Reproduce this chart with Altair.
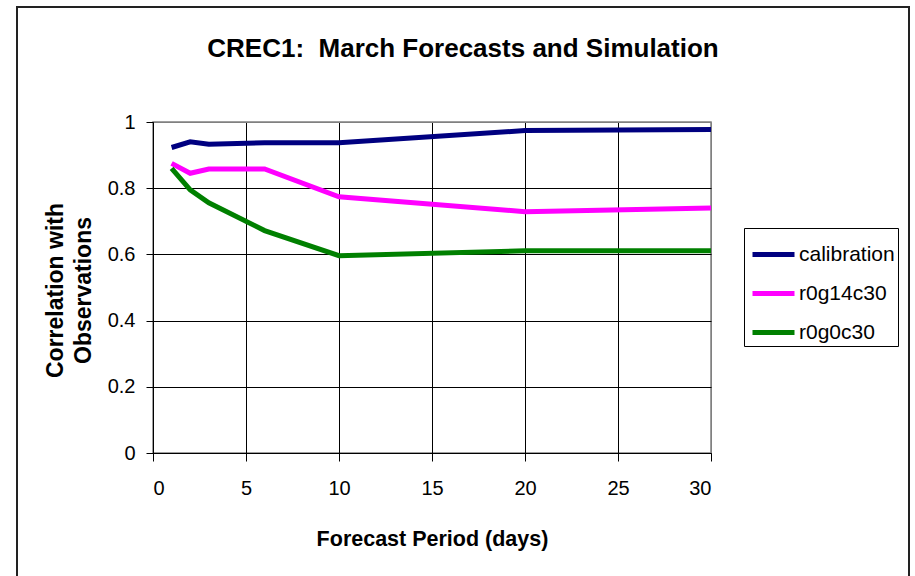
import altair as alt
import pandas as pd

# Forecast lead times (days) and correlation of each run with observations
days = [1, 2, 3, 6, 10, 20, 30]
calibration = [0.923, 0.940, 0.933, 0.937, 0.937, 0.974, 0.977]
r0g14c30 = [0.875, 0.845, 0.858, 0.858, 0.774, 0.729, 0.740]
r0g0c30 = [0.860, 0.795, 0.756, 0.672, 0.596, 0.611, 0.611]

series_names = ["calibration", "r0g14c30", "r0g0c30"]
series_colors = ["#000080", "#FF00FF", "#008000"]

x_ticks = [0, 5, 10, 15, 20, 25, 30]
y_ticks = [0, 0.2, 0.4, 0.6, 0.8, 1.0]

rows = []
for name, vals in zip(series_names, [calibration, r0g14c30, r0g0c30]):
    for d, v in zip(days, vals):
        rows.append({"days": d, "corr": v, "series": name})
df = pd.DataFrame(rows)

FONT = "Liberation Sans"

lines = alt.Chart(df).mark_line(strokeWidth=5).encode(
    x=alt.X(
        "days:Q",
        scale=alt.Scale(domain=[0, 30], nice=False),
        axis=alt.Axis(
            values=x_ticks,
            title="Forecast Period (days)",
            tickSize=8,
            labelPadding=17,
            titleY=92,
            titleBaseline="alphabetic",
            gridColor={"condition": {"test": "datum.value == 30", "value": "#808080"}, "value": "#000000"},
        ),
    ),
    y=alt.Y(
        "corr:Q",
        scale=alt.Scale(domain=[0, 1], nice=False),
        axis=alt.Axis(
            values=y_ticks,
            format=".1~f",
            title=["Correlation with", "Observations"],
            tickSize=7,
            labelPadding=11,
            titleAngle=270,
            titleX=-91,
            titleY=168,
            titleAlign="center",
            titleBaseline="alphabetic",
            titleLineHeight=28,
            titleFontSize=23,
            gridColor={"condition": {"test": "datum.value == 1", "value": "#808080"}, "value": "#000000"},
        ),
    ),
    color=alt.Color(
        "series:N",
        scale=alt.Scale(domain=series_names, range=series_colors),
        sort=series_names,
        legend=alt.Legend(
            title=None,
            orient="none",
            legendX=591,
            legendY=106,
            symbolType="stroke",
            symbolSize=1764,
            symbolStrokeWidth=5,
            symbolOffset=3,
            labelFontSize=21,
            labelOffset=2,
            labelFont=FONT,
            labelColor="#000000",
            strokeColor="#000000",
            fillColor="#FFFFFF",
            padding=3,
            rowPadding=5,
        ),
    ),
)

# outer chart frame
frame = alt.Chart(pd.DataFrame({"k": [0]})).mark_rect(
    fillOpacity=0, stroke="#222222", strokeWidth=2
).encode(
    x=alt.value(-136), x2=alt.value(756), y=alt.value(-115), y2=alt.value(480)
)

chart = (
    alt.layer(frame, lines)
    .properties(
        width=558,
        height=331,
        autosize=alt.AutoSizeParams(type="none"),
        padding={"left": 153, "top": 122, "right": 204, "bottom": 123},
        title=alt.TitleParams(
            "CREC1:\u00a0 March Forecasts and Simulation",
            font=FONT,
            fontSize=26,
            fontWeight="bold",
            color="#000000",
            anchor="middle",
            dx=31,
            dy=77,
            offset=0,
            baseline="alphabetic",
        ),
    )
    .configure(background="#FFFFFF")
    .configure_view(stroke="#808080", strokeWidth=1.5)
    .configure_axis(
        labelFont=FONT,
        labelFontSize=20,
        labelColor="#000000",
        titleFont=FONT,
        titleFontSize=21.5,
        titleFontWeight="bold",
        titleColor="#000000",
        domainColor="#000000",
        domainWidth=1,
        tickColor="#000000",
        tickWidth=1,
        gridWidth=1,
        gridOpacity=1,
    )
)

chart.save("out.html", embed_options={"renderer": "svg", "actions": False})
